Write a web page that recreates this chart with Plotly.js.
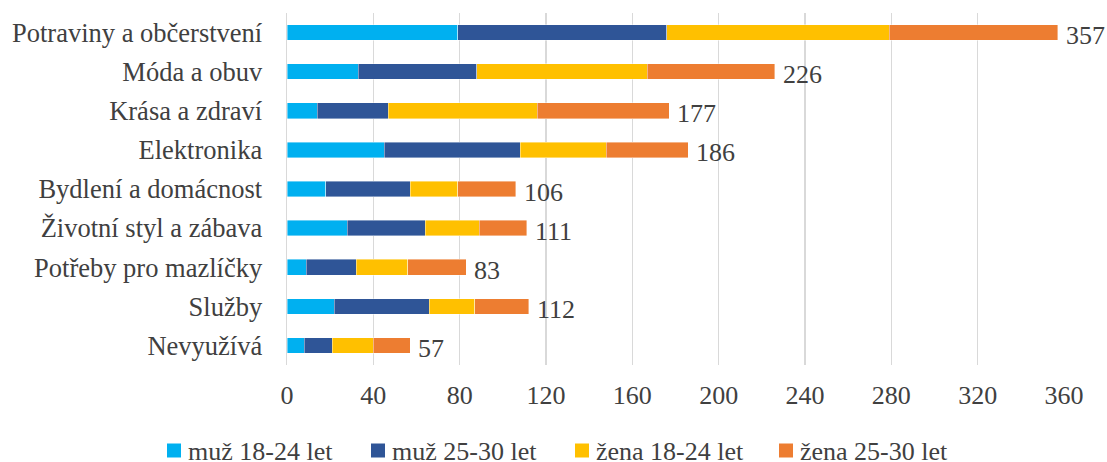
<!DOCTYPE html>
<html>
<head>
<meta charset="utf-8">
<script src="https://cdn.plot.ly/plotly-3.0.1.min.js"></script>
<style>
  html, body { margin: 0; padding: 0; background: #ffffff; }
  #chart { width: 1107px; height: 462px; }
</style>
</head>
<body>
<div id="chart"></div>
<script>
// Categories, top to bottom
const categories = [
  "Potraviny a občerstvení",
  "Móda a obuv",
  "Krása a zdraví",
  "Elektronika",
  "Bydlení a domácnost",
  "Životní styl a zábava",
  "Potřeby pro mazlíčky",
  "Služby",
  "Nevyužívá"
];

// Respondent counts per group
const muz1824  = [79, 33, 14, 45, 18, 28,  9, 22,  8];
const muz2530  = [97, 55, 33, 63, 39, 36, 23, 44, 13];
const zena1824 = [103, 79, 69, 40, 22, 25, 24, 21, 19];
const zena2530 = [78, 59, 61, 38, 27, 22, 27, 25, 17];

const seriesNames = ["muž 18-24 let", "muž 25-30 let", "žena 18-24 let", "žena 25-30 let"];
const seriesValues = [muz1824, muz2530, zena1824, zena2530];
const seriesColors = ["#00B0F0", "#2F5597", "#FFC000", "#ED7D31"];

const xTicks = [0, 40, 80, 120, 160, 200, 240, 280, 320, 360];

// Row totals shown at the end of each stacked bar
const totals = categories.map((_, i) => seriesValues.reduce((s, arr) => s + arr[i], 0));

const FONT = '"Liberation Serif", "Times New Roman", serif';
const TEXT = '#404040';

// Plot-area geometry (px) used to place the legend row under the axis
const W = 1107, H = 462;
const M = { l: 287, r: 43, t: 13, b: 97 };
const plotW = W - M.l - M.r;
const plotH = H - M.t - M.b;
const paperX = px => (px - M.l) / plotW;
const paperY = py => (M.t + plotH - py) / plotH;

const traces = seriesValues.map((vals, k) => ({
  type: 'bar',
  orientation: 'h',
  name: seriesNames[k],
  x: vals,
  y: categories,
  marker: { color: seriesColors[k], line: { color: 'rgba(255,255,255,0.55)', width: 0.75 } },
  hoverinfo: 'x+name',
  showlegend: false
}));

// Total labels placed just past each bar end
const annotations = categories.map((c, i) => ({
  x: totals[i],
  y: c,
  xref: 'x',
  yref: 'y',
  text: String(totals[i]),
  showarrow: false,
  xanchor: 'left',
  yanchor: 'middle',
  xshift: 6,
  yshift: -3,
  font: { family: FONT, size: 26, color: TEXT }
}));

// Legend row: square swatch followed by the series name
const legendStart = 167, legendStep = 204, swatch = 14, legendMid = 450.5;
const shapes = [];
seriesNames.forEach((name, k) => {
  const left = legendStart + k * legendStep;
  shapes.push({
    type: 'rect',
    xref: 'paper', yref: 'paper',
    x0: paperX(left), x1: paperX(left + swatch),
    y0: paperY(legendMid + swatch / 2), y1: paperY(legendMid - swatch / 2),
    fillcolor: seriesColors[k],
    line: { width: 0 }
  });
  annotations.push({
    xref: 'paper', yref: 'paper',
    x: paperX(left + swatch + 5),
    y: paperY(legendMid),
    text: name,
    showarrow: false,
    xanchor: 'left',
    yanchor: 'middle',
    yshift: -1,
    font: { family: FONT, size: 26, color: TEXT }
  });
});

const layout = {
  width: W,
  height: H,
  margin: { l: M.l, r: M.r, t: M.t, b: M.b, autoexpand: false },
  paper_bgcolor: '#ffffff',
  plot_bgcolor: '#ffffff',
  barmode: 'stack',
  bargap: 0.6,
  font: { family: FONT, size: 26, color: TEXT },
  xaxis: {
    range: [0, 360],
    tickvals: xTicks,
    ticktext: xTicks.map(String),
    showgrid: true,
    gridcolor: '#D9D9D9',
    gridwidth: 1.5,
    zeroline: false,
    showline: false,
    ticks: '',
    ticklabelstandoff: 12,
    tickfont: { family: FONT, size: 26, color: TEXT },
    automargin: false,
    fixedrange: true
  },
  yaxis: {
    type: 'category',
    categoryorder: 'array',
    categoryarray: categories,
    autorange: 'reversed',
    showgrid: false,
    zeroline: false,
    showline: true,
    linecolor: '#D9D9D9',
    linewidth: 1.5,
    ticks: '',
    ticklabelstandoff: 18,
    tickfont: { family: FONT, size: 26.5, color: TEXT },
    automargin: false,
    fixedrange: true
  },
  annotations: annotations,
  shapes: shapes,
  showlegend: false
};

Plotly.newPlot('chart', traces, layout, { staticPlot: true, displayModeBar: false });
</script>
</body>
</html>
